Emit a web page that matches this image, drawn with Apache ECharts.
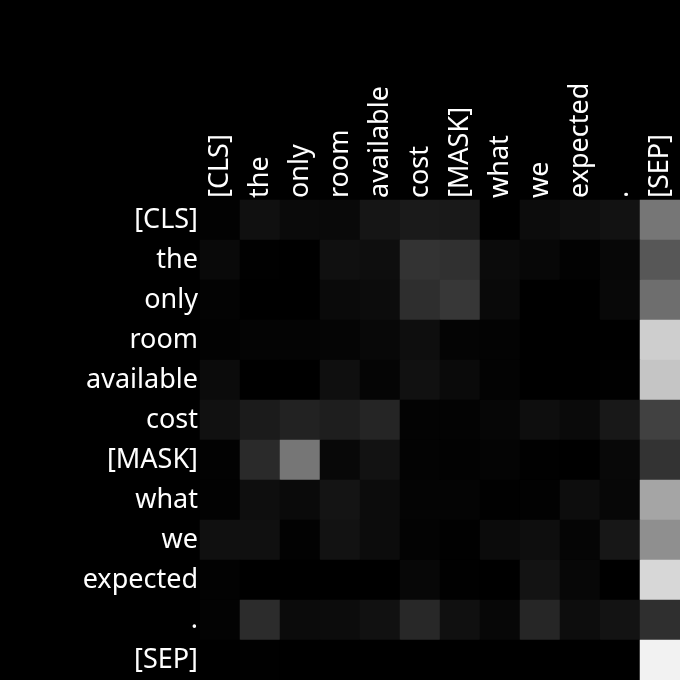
<!DOCTYPE html>
<html><head><meta charset="utf-8">
<script src="https://cdn.jsdelivr.net/npm/echarts@6/dist/echarts.min.js"></script>
<style>html,body{margin:0;padding:0;background:#000}#c{width:680px;height:680px}</style>
</head><body><div id="c"></div>
<script>
const tokens = ["[CLS]","the","only","room","available","cost","[MASK]","what","we","expected",".","[SEP]"];
// gray intensity (0-255), rows = query tokens, cols = key tokens
const row0  = [0x02,0x10,0x0a,0x09,0x15,0x1a,0x19,0x00,0x0c,0x0f,0x12,0x76];
const row1  = [0x09,0x01,0x00,0x10,0x0e,0x33,0x30,0x0b,0x07,0x02,0x07,0x57];
const row2  = [0x03,0x00,0x00,0x0a,0x0c,0x2e,0x37,0x09,0x00,0x00,0x08,0x6e];
const row3  = [0x02,0x04,0x04,0x05,0x08,0x0e,0x04,0x03,0x00,0x00,0x00,0xce];
const row4  = [0x0b,0x00,0x00,0x0f,0x05,0x11,0x0a,0x03,0x00,0x00,0x01,0xc5];
const row5  = [0x11,0x1b,0x22,0x1e,0x25,0x03,0x03,0x06,0x0e,0x0a,0x18,0x41];
const row6  = [0x02,0x2a,0x76,0x08,0x12,0x03,0x02,0x04,0x01,0x00,0x08,0x33];
const row7  = [0x02,0x0e,0x0a,0x14,0x0c,0x04,0x04,0x01,0x02,0x0d,0x07,0xa5];
const row8  = [0x10,0x10,0x02,0x12,0x0c,0x03,0x01,0x0b,0x0e,0x05,0x17,0x8f];
const row9  = [0x02,0x00,0x00,0x00,0x00,0x07,0x01,0x00,0x13,0x07,0x00,0xd7];
const row10 = [0x03,0x2c,0x0b,0x0c,0x11,0x28,0x10,0x07,0x26,0x0d,0x13,0x2f];
const row11 = [0x00,0x01,0x00,0x00,0x00,0x00,0x00,0x00,0x00,0x00,0x00,0xf2];
const rows = [row0,row1,row2,row3,row4,row5,row6,row7,row8,row9,row10,row11];

const data = [];
rows.forEach((r, i) => r.forEach((v, j) => data.push([j, i, v / 255])));

const chart = echarts.init(document.getElementById('c'), null, {renderer: 'canvas'});
const font = '"Noto Sans", "Open Sans", sans-serif';
chart.setOption({
  backgroundColor: '#000',
  animation: false,
  grid: {left: 200, top: 200, right: 0, bottom: 0},
  xAxis: {
    type: 'category', data: tokens, position: 'top',
    axisLine: {show: false}, axisTick: {show: false}, splitLine: {show: false},
    axisLabel: {rotate: -90, color: '#fff', fontSize: 27, fontFamily: font, margin: 2, interval: 0}
  },
  yAxis: {
    type: 'category', data: tokens, inverse: true,
    axisLine: {show: false}, axisTick: {show: false}, splitLine: {show: false},
    axisLabel: {color: '#fff', fontSize: 27, fontFamily: font, margin: 2, interval: 0, padding: [5, 0, 0, 0]}
  },
  visualMap: {show: false, min: 0, max: 1, inRange: {color: ['#000000', '#ffffff']}},
  series: [{type: 'heatmap', data: data, itemStyle: {borderWidth: 0}, emphasis: {disabled: true}}]
});
</script></body></html>
